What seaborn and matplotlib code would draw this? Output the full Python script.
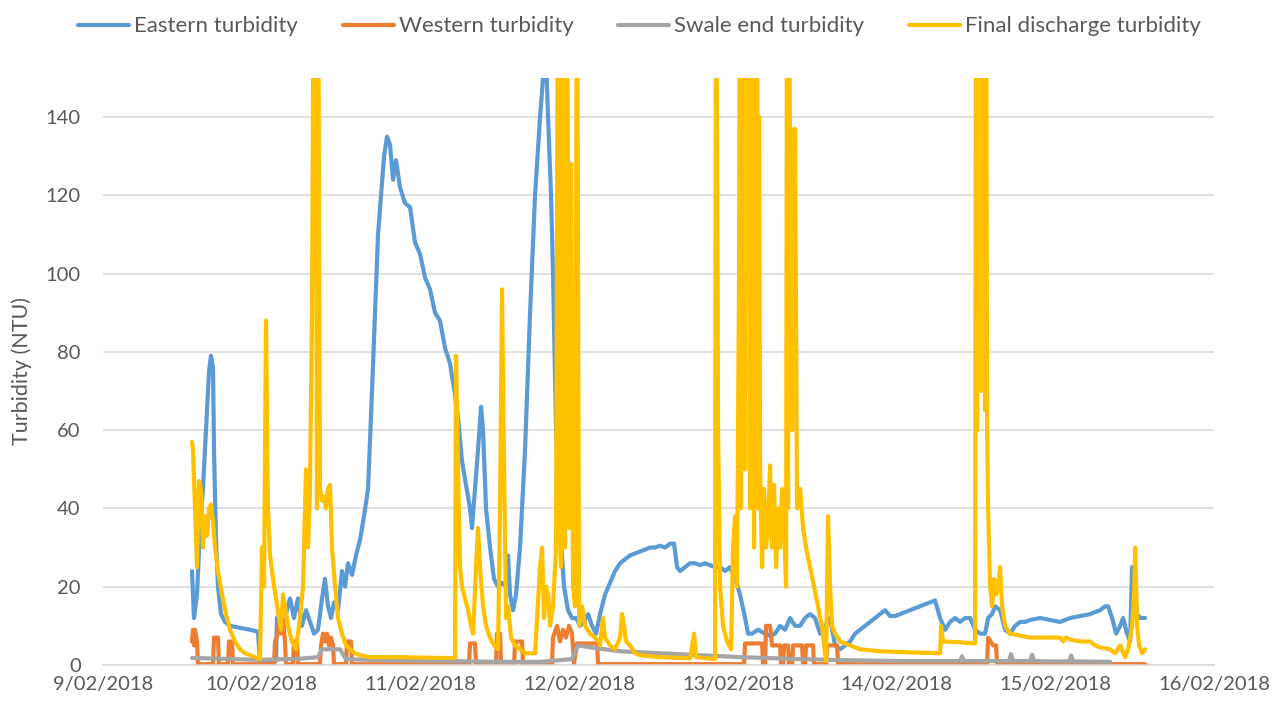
import pandas as pd
import seaborn as sns
import matplotlib.pyplot as plt

# hours since 9/02/2018 00:00, turbidity in NTU
eastern = [
    (13.46, 24), (13.76, 12), (14.22, 18), (14.67, 35), (15.12, 45), (15.58, 60),
    (16.03, 75), (16.33, 79), (16.64, 76), (16.79, 55), (17.09, 32), (17.39, 20),
    (17.85, 13), (18.45, 11), (19.21, 10), (20.72, 9.5), (22.23, 9), (23.44, 8.5),
    (23.74, 1), (26.16, 1), (26.31, 12), (27.07, 14), (27.67, 13), (28.28, 17),
    (28.88, 12), (29.49, 17), (30.09, 10), (30.70, 14), (31.30, 11), (31.91, 8),
    (32.51, 9), (33.12, 17), (33.57, 22), (34.03, 15), (34.48, 12), (34.93, 16),
    (35.54, 14), (36.14, 24), (36.60, 20), (37.05, 26), (37.66, 23), (38.26, 28),
    (38.87, 32), (39.47, 38), (40.08, 45), (40.68, 70), (41.13, 90), (41.59, 110),
    (42.04, 120), (42.50, 130), (42.95, 135), (43.40, 133), (43.86, 124), (44.31, 129),
    (44.92, 122), (45.67, 118), (46.43, 117), (47.18, 108), (47.94, 105), (48.70, 99),
    (49.45, 96), (50.21, 90), (50.96, 88), (51.72, 81), (52.48, 77), (53.23, 69),
    (53.69, 63), (54.29, 52), (54.90, 46), (55.50, 40), (55.80, 35), (56.26, 45),
    (56.71, 55), (57.17, 66), (57.47, 60), (57.92, 40), (58.53, 30), (59.13, 22),
    (59.74, 20), (60.34, 21), (60.95, 20), (61.25, 28), (61.55, 18), (62.00, 14),
    (62.46, 18), (63.06, 30), (63.82, 55), (64.58, 90), (65.33, 120), (66.09, 140),
    (66.54, 150), (67.00, 155), (67.30, 140), (67.75, 120), (68.05, 100), (68.51, 60),
    (69.11, 35), (69.72, 20), (70.32, 14), (70.93, 12), (71.53, 12), (72.14, 10),
    (72.74, 11), (73.35, 13), (73.95, 10), (74.56, 8), (75.16, 13), (75.92, 18),
    (76.67, 21), (77.43, 24), (78.19, 26), (78.94, 27), (79.70, 28), (80.45, 28.5),
    (81.21, 29), (81.97, 29.5), (82.72, 30), (83.48, 30), (84.23, 30.5), (84.99, 30),
    (85.75, 31), (86.35, 31), (86.81, 25), (87.26, 24), (88.02, 25), (88.77, 26),
    (89.53, 26), (90.28, 25.5), (91.04, 26), (91.80, 25.5), (92.55, 25), (93.31, 25),
    (94.07, 24), (94.82, 25), (95.58, 22), (96.33, 18), (97.09, 12), (97.54, 8),
    (98.15, 8), (99.06, 9), (100.11, 8), (100.87, 7.5), (101.63, 8), (102.38, 10),
    (103.14, 9), (103.89, 12), (104.65, 10), (105.41, 10), (106.16, 12), (106.92, 13),
    (107.67, 12), (108.43, 8), (109.19, 10), (109.94, 12), (110.70, 5), (111.46, 4),
    (112.21, 5), (112.97, 6), (113.72, 8), (114.48, 9), (115.24, 10), (115.99, 11),
    (116.75, 12), (117.51, 13), (118.26, 14), (119.02, 12.5), (119.77, 12.5),
    (120.53, 13), (121.29, 13.5), (122.04, 14), (122.80, 14.5), (123.56, 15),
    (124.31, 15.5), (125.07, 16), (125.82, 16.5), (126.58, 12), (127.34, 9),
    (128.09, 11), (128.85, 12), (129.60, 11), (130.36, 12), (131.12, 12), (131.87, 9),
    (132.63, 8), (133.38, 8), (133.84, 12), (134.44, 13), (134.90, 15), (135.65, 14),
    (136.41, 9), (137.17, 8), (137.92, 10), (138.68, 11), (139.43, 11), (140.19, 11.5),
    (141.70, 12), (143.22, 11.5), (144.73, 11), (145.48, 11.5), (146.24, 12),
    (147.75, 12.5), (149.26, 13), (150.78, 14), (151.53, 15), (151.99, 15),
    (152.59, 12), (153.20, 8), (153.80, 10), (154.25, 12), (154.86, 8), (155.31, 6),
    (155.61, 25), (155.92, 20), (156.37, 13), (156.82, 12), (157.58, 12),
]

western = [
    (13.46, 6), (13.61, 9), (13.76, 5), (13.91, 9), (14.22, 6), (14.37, 0.2),
    (16.64, 0.2), (16.79, 7), (17.39, 7), (17.54, 0.2), (18.90, 0.2), (19.05, 6),
    (19.51, 6), (19.66, 0.2), (25.86, 0.2), (26.01, 6), (26.47, 8), (26.62, 12),
    (26.92, 8), (27.22, 12), (27.52, 6), (27.67, 0.2), (28.73, 0.2), (28.88, 6),
    (29.34, 6), (29.49, 0.2), (32.81, 0.2), (32.97, 5), (33.27, 8), (33.57, 6),
    (33.88, 8), (34.18, 5), (34.48, 7), (34.78, 5), (34.93, 0.2), (36.75, 0.2),
    (36.90, 6), (37.51, 6), (37.66, 0.2), (55.35, 0.2), (55.50, 5.5), (56.26, 5.5),
    (56.41, 0.2), (59.43, 0.2), (59.58, 8), (60.04, 8), (60.19, 0.2), (62.16, 0.2),
    (62.31, 6), (63.37, 6), (63.52, 0.2), (67.90, 0.2), (68.05, 7), (68.66, 10),
    (69.11, 6), (69.57, 9), (70.02, 7), (70.47, 10), (70.93, 8), (71.23, 0.5),
    (71.68, 5.5), (74.71, 5.5), (74.86, 0.2), (96.94, 0.2), (97.09, 5.5),
    (99.66, 5.5), (99.81, 0.2), (100.11, 0.2), (100.26, 10), (100.87, 10),
    (101.17, 5), (102.38, 5), (102.53, 0.2), (102.84, 0.2), (102.99, 5),
    (103.59, 5), (103.74, 0.2), (104.20, 0.2), (104.35, 5), (105.71, 5),
    (105.86, 0.2), (106.16, 0.2), (106.31, 5), (107.37, 5), (107.52, 0.2),
    (109.34, 0.2), (109.49, 5), (111.00, 5), (111.15, 0.2), (133.69, 0.2),
    (133.84, 7), (134.60, 5), (135.05, 5), (135.20, 0.2), (157.58, 0.2),
]

swale = [
    (13.46, 1.8), (17.69, 1.6), (23.74, 1.3), (29.79, 1.6), (32.51, 2), (33.12, 4),
    (35.84, 4), (36.75, 1.5), (41.89, 1.2), (50.96, 1.0), (60.04, 0.8), (66.09, 0.8),
    (70.93, 1.5), (71.83, 5), (73.65, 4.5), (78.19, 3.5), (84.23, 3), (90.28, 2.5),
    (96.33, 2), (105.41, 1.5), (112.97, 1.2), (120.53, 1), (129.60, 1), (129.90, 2.2),
    (130.20, 1), (135.65, 1), (137.00, 1), (137.30, 2.8), (137.60, 1), (140.20, 1),
    (140.50, 2.6), (140.80, 1), (143.22, 0.9), (146.10, 0.9), (146.40, 2.4),
    (146.70, 0.9), (152.29, 0.8),
]

final_discharge = [
    (13.46, 57), (13.61, 55), (13.91, 40), (14.22, 25), (14.52, 47), (14.82, 45),
    (15.12, 30), (15.43, 38), (15.73, 33), (16.03, 40), (16.33, 41), (16.64, 37),
    (16.94, 30), (17.39, 24), (18.00, 18), (18.60, 13), (19.21, 9), (19.96, 6),
    (20.72, 4), (21.47, 3), (22.23, 2.5), (22.99, 2), (23.74, 1.5), (24.05, 30),
    (24.35, 20), (24.65, 88), (24.95, 40), (25.26, 28), (25.71, 22), (26.16, 17),
    (26.62, 12), (26.92, 9), (27.22, 18), (27.52, 15), (27.98, 10), (28.58, 6),
    (29.19, 4), (29.79, 12), (30.25, 20), (30.70, 50), (31.00, 30), (31.30, 45),
    (31.61, 90), (31.91, 200), (32.21, 150), (32.36, 40), (32.51, 200), (32.81, 45),
    (33.12, 42), (33.42, 43), (33.72, 40), (34.03, 45), (34.33, 46), (34.63, 30),
    (35.09, 20), (35.54, 12), (36.14, 8), (36.75, 5), (37.35, 4), (38.11, 3),
    (38.87, 2.5), (40.38, 2), (44.92, 2), (50.96, 1.8), (53.23, 1.8), (53.38, 79),
    (53.69, 50), (53.99, 25), (54.29, 20), (54.75, 17), (55.20, 14), (55.65, 10),
    (55.96, 8), (56.41, 25), (56.71, 35), (57.01, 25), (57.47, 15), (57.92, 10),
    (58.53, 7), (59.13, 5), (59.74, 4), (60.04, 40), (60.34, 96), (60.65, 50),
    (60.95, 12), (61.25, 15), (61.70, 7), (62.31, 5), (63.06, 4), (63.82, 3),
    (65.33, 3), (66.09, 25), (66.39, 30), (66.69, 12), (67.00, 20), (67.30, 18),
    (67.60, 10), (68.05, 15), (68.51, 30), (68.81, 200), (68.96, 40), (69.26, 25),
    (69.57, 200), (69.87, 30), (70.17, 200), (70.47, 35), (70.78, 128), (71.08, 20),
    (71.38, 15), (71.68, 200), (71.99, 10), (72.44, 15), (72.89, 10), (73.65, 8),
    (74.41, 7), (74.86, 6), (75.16, 5), (75.61, 12), (75.92, 7), (76.67, 5),
    (77.43, 4), (78.19, 7), (78.49, 13), (78.79, 10), (79.09, 6), (79.70, 5),
    (80.45, 3), (81.21, 2.5), (84.23, 2), (88.77, 1.7), (89.38, 8), (89.68, 2),
    (92.55, 1.5), (92.70, 200), (93.01, 60), (93.31, 20), (93.76, 10), (94.37, 6),
    (94.97, 4), (95.27, 30), (95.58, 38), (95.88, 20), (96.18, 100), (96.33, 200),
    (96.48, 40), (96.63, 200), (96.78, 60), (96.94, 200), (97.09, 50), (97.24, 200),
    (97.39, 131), (97.69, 200), (97.84, 40), (97.99, 200), (98.15, 60), (98.30, 200),
    (98.45, 30), (98.60, 200), (98.75, 45), (98.90, 200), (99.06, 40), (99.21, 140),
    (99.36, 50), (99.66, 25), (99.96, 45), (100.26, 30), (100.57, 35), (100.87, 51),
    (101.17, 30), (101.48, 46), (101.78, 25), (102.08, 40), (102.38, 30), (102.68, 45),
    (102.99, 35), (103.29, 20), (103.44, 200), (103.59, 40), (103.74, 200),
    (103.89, 120), (104.04, 137), (104.20, 60), (104.35, 125), (104.65, 137),
    (104.95, 40), (105.41, 45), (105.86, 35), (106.31, 30), (106.92, 25),
    (107.52, 20), (108.13, 15), (108.43, 12), (108.73, 10), (109.04, 5), (109.34, 1),
    (109.64, 38), (109.94, 20), (110.25, 10), (110.70, 8), (111.46, 6), (112.97, 5),
    (114.48, 4), (117.51, 3.5), (120.53, 3.3), (126.58, 3), (126.73, 10),
    (127.03, 6), (129.60, 5.8), (131.87, 5.5), (132.02, 200), (132.17, 60),
    (132.32, 200), (132.47, 80), (132.63, 200), (132.78, 70), (132.93, 200),
    (133.08, 90), (133.23, 200), (133.38, 65), (133.53, 200), (133.69, 60),
    (133.84, 40), (134.14, 20), (134.44, 15), (134.75, 22), (135.05, 18),
    (135.35, 20), (135.65, 25), (135.96, 15), (136.41, 10), (137.17, 8),
    (138.68, 7.5), (140.19, 7), (143.22, 7), (144.73, 7), (145.18, 6), (145.63, 7),
    (146.24, 6.5), (147.75, 6), (149.26, 6), (150.02, 5), (150.78, 4.5), (152.29, 4),
    (153.04, 3), (153.80, 5), (154.56, 2), (155.01, 4), (155.61, 10), (155.92, 18),
    (156.07, 30), (156.37, 10), (156.67, 5), (157.13, 3), (157.58, 4),
]

series_names = ["Eastern turbidity", "Western turbidity", "Swale end turbidity",
                "Final discharge turbidity"]
series_colors = ["#5B9BD5", "#ED7D31", "#A5A5A5", "#FFC000"]
tick_hours = [0, 24, 48, 72, 96, 120, 144, 168]
tick_labels = ["9/02/2018", "10/02/2018", "11/02/2018", "12/02/2018",
               "13/02/2018", "14/02/2018", "15/02/2018", "16/02/2018"]

sns.set_style("white")
plt.rcParams["font.family"] = ["Lato", "DejaVu Sans"]
text_color = "#595959"

fig = plt.figure(figsize=(12.84, 7.09), dpi=100)
ax = fig.add_axes([0.0802, 0.0621, 0.8653, 0.8279])

for name, color, pts in zip(series_names, series_colors,
                            [eastern, western, swale, final_discharge]):
    df = pd.DataFrame(pts, columns=["hours", "ntu"])
    sns.lineplot(data=df, x="hours", y="ntu", ax=ax, color=color, linewidth=3.0,
                 estimator=None, sort=False, label=name)

ax.set_xlim(0, 168)
ax.set_ylim(0, 150)
ax.set_xticks(tick_hours)
ax.set_xticklabels(tick_labels)
ax.set_yticks(range(0, 141, 20))
ax.yaxis.grid(True, color="#d9d9d9", linewidth=1.1)
ax.set_axisbelow(True)
for side in ["left", "right", "top"]:
    ax.spines[side].set_visible(False)
ax.spines["bottom"].set_color("#d9d9d9")
ax.spines["bottom"].set_linewidth(1.1)
ax.tick_params(axis="both", length=0, labelsize=14.5, labelcolor=text_color)
ax.tick_params(axis="y", pad=16)
ax.tick_params(axis="x", pad=8)
ax.set_xlabel("")
ax.set_ylabel("Turbidity (NTU)", fontsize=15.5, color=text_color, labelpad=10)

ax.legend(loc="upper center", bbox_to_anchor=(0.498, 1.005), bbox_transform=fig.transFigure,
          ncol=4, frameon=False, fontsize=16, labelcolor=text_color,
          handlelength=2.3, handletextpad=0.23, columnspacing=2.0)

fig.savefig("out.png", dpi=100)
